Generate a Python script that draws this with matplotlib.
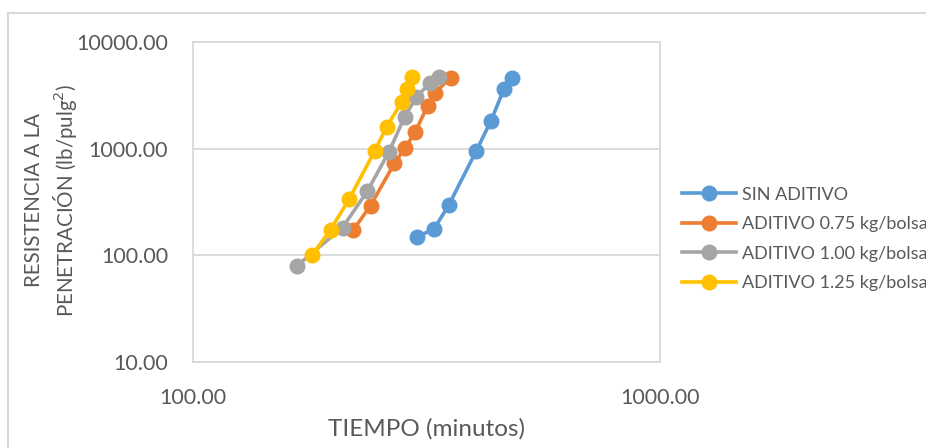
import matplotlib.pyplot as plt
from matplotlib.lines import Line2D
from matplotlib.ticker import FixedLocator, NullLocator, FixedFormatter

plt.rcParams['font.family'] = ['Lato', 'DejaVu Sans']

# tiempos (minutos) y resistencia a la penetracion (lb/pulg2)
t_sin = [302, 328, 353, 404, 434, 463, 482]
r_sin = [150, 176, 296, 950, 1800, 3600, 4570]

t_075 = [220, 240, 270, 285, 299, 318, 329, 356]
r_075 = [171, 293, 730, 1025, 1430, 2530, 3310, 4630]

t_100 = [167, 209, 236, 263, 284, 301, 322, 336]
r_100 = [80, 182, 397, 940, 2000, 3040, 4160, 4730]

t_125 = [180, 197, 216, 245, 260, 280, 287, 295]
r_125 = [100, 174, 337, 953, 1610, 2760, 3600, 4670]

series = [
    ('SIN ADITIVO', t_sin, r_sin, '#5b9bd5'),
    ('ADITIVO 0.75 kg/bolsa', t_075, r_075, '#ed7d31'),
    ('ADITIVO 1.00 kg/bolsa', t_100, r_100, '#a5a5a5'),
    ('ADITIVO 1.25 kg/bolsa', t_125, r_125, '#ffc000'),
]

x_ticks = [100, 1000]
y_ticks = [10, 100, 1000, 10000]

texto = '#595959'

fig = plt.figure(figsize=(9.26, 4.48), dpi=100)
ax = fig.add_axes([193 / 926, 1 - 362 / 448, 467 / 926, 320 / 448])

for nombre, t, r, c in series:
    ax.plot(t, r, color=c, lw=2.6, marker='o', ms=10.5, label=nombre, zorder=3)

ax.set_xscale('log')
ax.set_yscale('log')
ax.set_xlim(100, 1000)
ax.set_ylim(10, 10000)

ax.xaxis.set_major_locator(FixedLocator(x_ticks))
ax.xaxis.set_major_formatter(FixedFormatter(['%.2f' % v for v in x_ticks]))
ax.xaxis.set_minor_locator(NullLocator())
ax.yaxis.set_major_locator(FixedLocator(y_ticks))
ax.yaxis.set_major_formatter(FixedFormatter(['%.2f' % v for v in y_ticks]))
ax.yaxis.set_minor_locator(NullLocator())

ax.grid(axis='y', color='#d9d9d9', lw=1.3)
ax.tick_params(length=0, labelsize=15.5, labelcolor=texto)
ax.tick_params(axis='x', pad=19)
ax.tick_params(axis='y', pad=18)
for s in ax.spines.values():
    s.set_color('#d9d9d9')
    s.set_linewidth(1.3)

ax.set_xlabel('TIEMPO (minutos)', fontsize=17.5, color=texto, labelpad=7)
fig.text(34 / 926, 1 - 200 / 448, 'RESISTENCIA A LA', rotation=90, fontsize=14.8,
         color=texto, ha='center', va='center')
fig.text(65 / 926, 1 - 200 / 448, 'PENETRACIÓN (lb/pulg$^2$)', rotation=90,
         fontsize=14.8, color=texto, ha='center', va='center')

# leyenda a la derecha
manejadores = [Line2D([], [], color=c, lw=2.6, marker='o', ms=10.5)
               for _, _, _, c in series]
leg = fig.legend(manejadores, [s[0] for s in series], loc='center left',
                 bbox_to_anchor=(675 / 926, 1 - 239 / 448), frameon=False,
                 fontsize=13, handlelength=3.0, handletextpad=0.3,
                 labelspacing=0.75, borderaxespad=0)
for tx in leg.get_texts():
    tx.set_color(texto)

# borde del area del grafico
fig.add_artist(Line2D([8 / 926, 8 / 926], [0, 1 - 13 / 448],
                      color='#d9d9d9', lw=1.5, transform=fig.transFigure))
fig.add_artist(Line2D([8 / 926, 1], [1 - 13 / 448, 1 - 13 / 448],
                      color='#d9d9d9', lw=1.5, transform=fig.transFigure))

fig.savefig('out.png', dpi=100)
